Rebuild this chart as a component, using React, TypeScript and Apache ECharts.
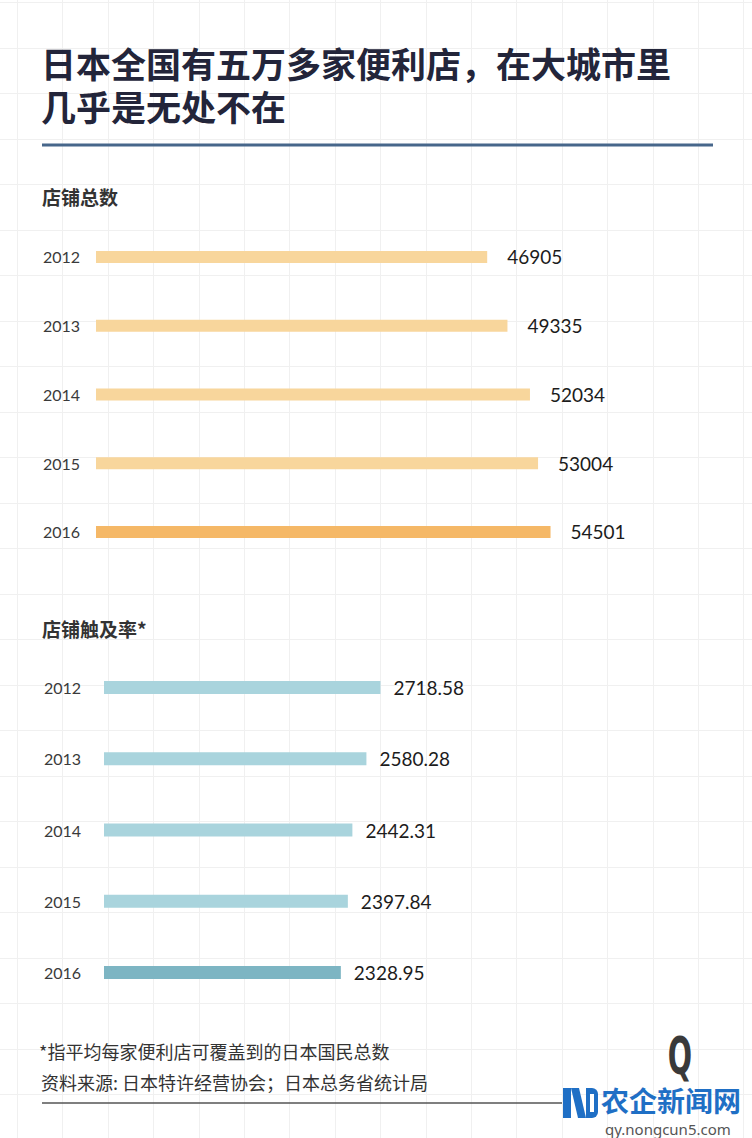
import React, { useEffect, useRef } from "react";
import * as echarts from "echarts";

const years = ["2012", "2013", "2014", "2015", "2016"];
const storeCounts = [46905, 49335, 52034, 53004, 54501];
const coverage = [2718.58, 2580.28, 2442.31, 2397.84, 2328.95];
const titleLine1 = "日本全国有五万多家便利店，在大城市里";
const titleLine2 = "几乎是无处不在";
const section1Title = "店铺总数";
const section2Title = "店铺触及率*";
const note1 = "*指平均每家便利店可覆盖到的日本国民总数";
const note2 = "资料来源: 日本特许经营协会；日本总务省统计局";
const brandText = "农企新闻网";
const brandUrl = "qy.nongcun5.com";

const orangeLight = "#f8d69c";
const orangeDark = "#f5b867";
const tealLight = "#a9d4dd";
const tealDark = "#7db5c3";

const CJK = '"Noto Sans CJK SC", "Noto Sans", sans-serif';
const NUM = 'Lato, "Noto Sans", sans-serif';

export default function App() {
  const ref = useRef<HTMLDivElement>(null);
  useEffect(() => {
    if (!ref.current) return;
    const chart = echarts.init(ref.current, null, { renderer: "svg" });

    const gridLines: any[] = [];
    for (let k = 0; k < 17; k++) {
      const x = Math.round(17 + 45.4 * k) + 0.5;
      gridLines.push({
        type: "line",
        z: 0,
        silent: true,
        shape: { x1: x, y1: 0, x2: x, y2: 1138 },
        style: { stroke: "#f0f0f0", lineWidth: 1 },
      });
    }
    for (let k = 0; k < 26; k++) {
      const y = Math.round(2 + 45.5 * k) + 0.5;
      gridLines.push({
        type: "line",
        z: 0,
        silent: true,
        shape: { x1: 0, y1: y, x2: 752, y2: y },
        style: { stroke: "#f0f0f0", lineWidth: 1 },
      });
    }

    const titleStyle = {
      fontFamily: CJK,
      fontSize: 35,
      lineHeight: 37,
      fontWeight: "bold",
      fill: "#23253a",
      textVerticalAlign: "middle",
    };

    const option: any = {
      animation: false,
      backgroundColor: "#ffffff",
      grid: [
        { left: 96, top: 222.6, width: 500.4, height: 343.75 },
        { left: 104, top: 652, width: 406.8, height: 356 },
      ],
      xAxis: [
        { type: "value", gridIndex: 0, min: 0, max: 60000, show: false },
        { type: "value", gridIndex: 1, min: 0, max: 4000, show: false },
      ],
      yAxis: [
        {
          type: "category",
          gridIndex: 0,
          data: years,
          inverse: true,
          axisLine: { show: false },
          axisTick: { show: false },
          splitLine: { show: false },
          axisLabel: { margin: 16, fontSize: 16, color: "#3a3a3a", fontFamily: NUM },
        },
        {
          type: "category",
          gridIndex: 1,
          data: years,
          inverse: true,
          axisLine: { show: false },
          axisTick: { show: false },
          splitLine: { show: false },
          axisLabel: { margin: 23, fontSize: 16, color: "#3a3a3a", fontFamily: NUM },
        },
      ],
      series: [
        {
          type: "bar",
          xAxisIndex: 0,
          yAxisIndex: 0,
          barWidth: 12,
          data: storeCounts.map((v, i) => ({
            value: v,
            itemStyle: { color: i === storeCounts.length - 1 ? orangeDark : orangeLight },
          })),
          label: {
            show: true,
            position: "right",
            distance: 20,
            fontSize: 19,
            fontFamily: NUM,
            color: "#1c1c1c",
            formatter: (p: any) => String(p.value),
          },
        },
        {
          type: "bar",
          xAxisIndex: 1,
          yAxisIndex: 1,
          barWidth: 13,
          data: coverage.map((v, i) => ({
            value: v,
            itemStyle: { color: i === coverage.length - 1 ? tealDark : tealLight },
          })),
          label: {
            show: true,
            position: "right",
            distance: 13,
            fontSize: 19,
            fontFamily: NUM,
            color: "#1c1c1c",
            formatter: (p: any) => Number(p.value).toFixed(2),
          },
        },
      ],
      graphic: [
        ...gridLines,
        { type: "text", z: 5, x: 41, y: 62.5, style: { ...titleStyle, text: titleLine1 } },
        { type: "text", z: 5, x: 41, y: 105.5, style: { ...titleStyle, text: titleLine2 } },
        {
          type: "line",
          z: 5,
          shape: { x1: 42, y1: 145, x2: 713, y2: 145 },
          style: { stroke: "#47678b", lineWidth: 3 },
        },
        {
          type: "text",
          z: 5,
          x: 42,
          y: 196,
          style: {
            text: section1Title,
            fontFamily: CJK,
            fontSize: 19,
            fontWeight: "bold",
            fill: "#333333",
            textVerticalAlign: "middle",
          },
        },
        {
          type: "text",
          z: 5,
          x: 42,
          y: 628,
          style: {
            text: section2Title,
            fontFamily: CJK,
            fontSize: 19,
            fontWeight: "bold",
            fill: "#333333",
            textVerticalAlign: "middle",
          },
        },
        {
          type: "text",
          z: 5,
          x: 39,
          y: 1051,
          style: {
            text: note1,
            fontFamily: CJK,
            fontSize: 18,
            fill: "#333333",
            textVerticalAlign: "middle",
          },
        },
        {
          type: "text",
          z: 5,
          x: 41,
          y: 1082,
          style: {
            text: note2,
            fontFamily: CJK,
            fontSize: 18,
            fill: "#333333",
            textVerticalAlign: "middle",
          },
        },
        {
          type: "line",
          z: 5,
          shape: { x1: 42, y1: 1103, x2: 562, y2: 1103 },
          style: { stroke: "#555555", lineWidth: 1.5 },
        },
        {
          type: "text",
          z: 5,
          x: 680,
          y: 1056,
          scaleX: 0.55,
          style: {
            text: "Q",
            fontFamily: '"DejaVu Sans", sans-serif',
            fontSize: 52,
            fontWeight: "bold",
            fill: "#3a3a3a",
            textAlign: "center",
            textVerticalAlign: "middle",
          },
        },
        {
          type: "group",
          z: 6,
          children: [
            { type: "rect", shape: { x: 563, y: 1088, width: 8, height: 30 }, style: { fill: "#1f6fc5" } },
            { type: "polygon", shape: { points: [[571, 1088], [579, 1088], [586, 1118], [578, 1118]] }, style: { fill: "#1f6fc5" } },
            { type: "rect", shape: { x: 586, y: 1088, width: 12, height: 30, r: [0, 6, 6, 0] }, style: { fill: "#1f6fc5" } },
            { type: "rect", shape: { x: 590, y: 1094, width: 4, height: 18 }, style: { fill: "#ffffff" } },
          ],
        },
        {
          type: "text",
          z: 6,
          x: 601,
          y: 1100,
          style: {
            text: brandText,
            fontFamily: CJK,
            fontSize: 28,
            fontWeight: "bold",
            fill: "#1f6fc5",
            textVerticalAlign: "middle",
          },
        },
        {
          type: "text",
          z: 6,
          x: 605,
          y: 1129,
          style: {
            text: brandUrl,
            fontFamily: '"Noto Sans", sans-serif',
            fontSize: 15,
            fill: "#555555",
            textVerticalAlign: "middle",
          },
        },
      ],
    };

    chart.setOption(option);
    return () => chart.dispose();
  }, []);

  return (
    <div
      ref={ref}
      style={{ position: "absolute", left: 0, top: 0, width: 752, height: 1138 }}
    />
  );
}
